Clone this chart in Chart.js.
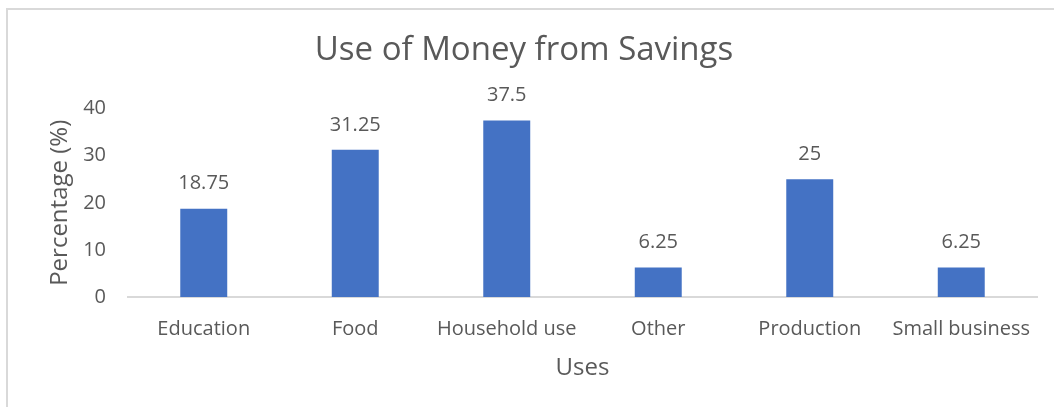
<!DOCTYPE html>
<html>
<head>
<meta charset="utf-8">
<script src="https://cdn.jsdelivr.net/npm/chart.js@4"></script>
<style>
  html, body { margin: 0; padding: 0; background: #fff; }
  #wrap { position: relative; width: 1054px; height: 407px; }
  #frame {
    position: absolute; left: 6px; top: 8px; right: 0; bottom: 0;
    border-top: 2px solid #d9d9d9; border-left: 2px solid #d9d9d9;
  }
  canvas { position: absolute; left: 0; top: 0; }
</style>
</head>
<body>
<div id="wrap">
  <div id="frame"></div>
  <canvas id="chart" width="1054" height="407"></canvas>
</div>
<script>
// savings usage survey, percentage of respondents
const uses = ['Education', 'Food', 'Household use', 'Other', 'Production', 'Small business'];
const percentages = [18.75, 31.25, 37.5, 6.25, 25, 6.25];
const yTicks = [0, 10, 20, 30, 40];

const textColor = '#595959';
const fontFamily = "'Open Sans', 'Noto Sans', sans-serif";

// writes each bar's value just above it
const valueLabels = {
  id: 'valueLabels',
  afterDatasetsDraw(chart) {
    const ctx = chart.ctx;
    const meta = chart.getDatasetMeta(0);
    ctx.save();
    ctx.font = '20px ' + fontFamily;
    ctx.fillStyle = textColor;
    ctx.textAlign = 'center';
    ctx.textBaseline = 'middle';
    meta.data.forEach((bar, i) => {
      ctx.fillText(String(percentages[i]), bar.x, bar.y - 25);
    });
    ctx.restore();
  }
};

Chart.defaults.font.family = fontFamily;
Chart.defaults.color = textColor;

new Chart(document.getElementById('chart'), {
  type: 'bar',
  data: {
    labels: uses,
    datasets: [{
      data: percentages,
      backgroundColor: '#4472C4',
      categoryPercentage: 0.31,
      barPercentage: 1
    }]
  },
  options: {
    responsive: false,
    animation: false,
    layout: { padding: { left: 11, right: 17, top: 0, bottom: 20 } },
    plugins: {
      legend: { display: false },
      tooltip: { enabled: false },
      title: {
        display: true,
        text: 'Use of Money from Savings',
        color: textColor,
        font: { size: 33, weight: 'normal' },
        padding: { top: 31, bottom: 38 }
      }
    },
    scales: {
      x: {
        grid: { display: false },
        border: { color: '#d9d9d9', width: 2 },
        ticks: { font: { size: 20 }, padding: 12, maxRotation: 0 },
        title: { display: true, text: 'Uses', font: { size: 24 }, padding: { top: 6 } },
        afterFit(scale) { scale.height = 90; }
      },
      y: {
        min: 0,
        max: 40,
        afterBuildTicks(scale) { scale.ticks = yTicks.map(v => ({ value: v })); },
        grid: { display: false },
        border: { display: false },
        ticks: { font: { size: 20 }, padding: 14 },
        title: { display: true, text: 'Percentage (%)', font: { size: 24 }, padding: { top: 35, bottom: 0 } },
        afterFit(scale) { scale.width = 117; }
      }
    }
  },
  plugins: [valueLabels]
});
</script>
</body>
</html>
